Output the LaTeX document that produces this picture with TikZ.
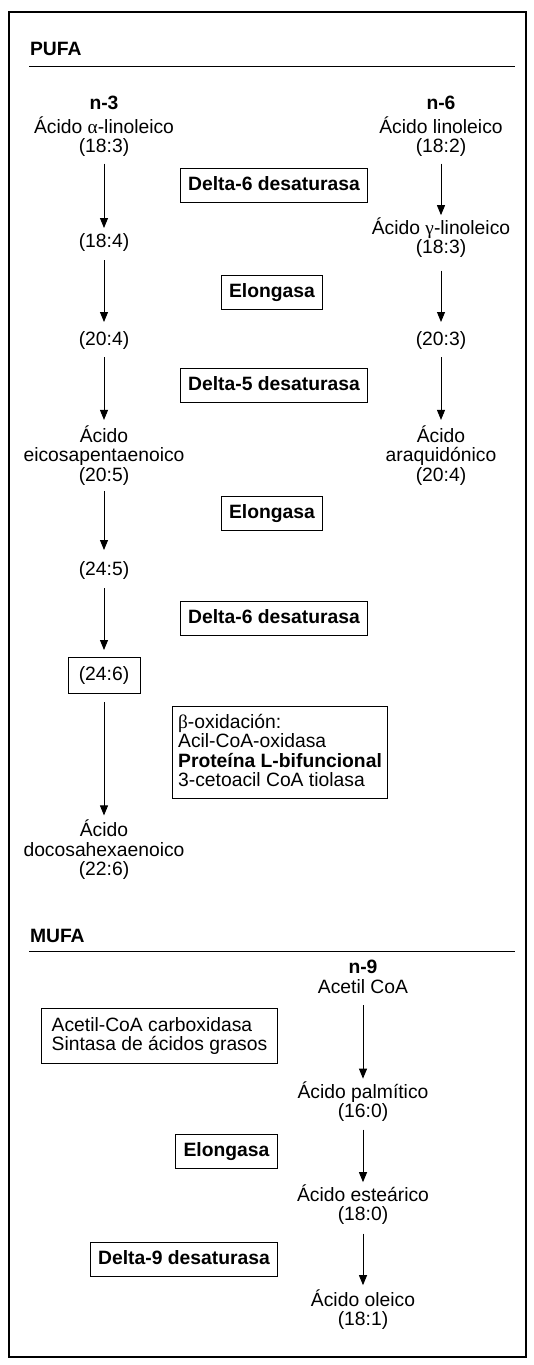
\documentclass[tikz,border=0pt]{standalone}
\usepackage{fontspec}
\setmainfont{Liberation Sans}
\newfontfamily\grk{Liberation Serif}
\usetikzlibrary{arrows.meta}
\newcommand\ms{\rule[-4.5pt]{0pt}{19.5pt}}
\newcommand\fs{\fontsize{19.3pt}{19.5pt}\selectfont\lineskiplimit=-100pt\relax}
\begin{document}
\begin{tikzpicture}[x=1pt,y=-1pt,
  txt/.style={font=\fs, align=center, inner sep=0pt, outer sep=0pt},
  hdr/.style={txt, font=\fs\bfseries},
  enz/.style={draw, line width=1pt, font=\fs\bfseries, inner xsep=8pt, inner ysep=7.25pt, outer sep=0pt},
  lbox/.style={draw, line width=1pt, font=\fs, align=left, outer sep=0pt},
  arr/.style={-{Triangle[width=8pt,length=10pt]}, line width=0.9pt}]
\useasboundingbox (0,0) rectangle (534,1365);
\draw[line width=1.3pt] (9,12) rectangle (526,1357);
% ---------- PUFA ----------
\node[hdr, anchor=west] (pufa) at (30,50.5) {\ms PUFA};
\draw[line width=0.9pt] (29,66) -- (515,66);
\node[hdr] (n3) at (104,104.5) {\ms n-3};
\node[hdr] (n6) at (441,104.5) {\ms n-6};
\node[txt] (a1) at (104,137) {\ms Ácido {\grk α}-linoleico\\\ms (18:3)};
\node[txt] (b1) at (441,137) {\ms Ácido linoleico\\\ms (18:2)};
\node[txt] (a2) at (104,242) {\ms (18:4)};
\node[txt] (b2) at (441,238) {\ms Ácido {\grk γ}-linoleico\\\ms (18:3)};
\node[txt] (a3) at (104,340) {\ms (20:4)};
\node[txt] (b3) at (441,340) {\ms (20:3)};
\node[txt] (a4) at (104,455.5) {\ms Ácido\\\ms eicosapentaenoico\\\ms (20:5)};
\node[txt] (b4) at (441,455.5) {\ms Ácido\\\ms araquidónico\\\ms (20:4)};
\node[txt] (a5) at (104,570) {\ms (24:5)};
\node[draw, line width=1pt, font=\fs, inner sep=0pt, outer sep=0pt, minimum width=72pt, minimum height=36pt] (a6) at (104,675) {\ms (24:6)};
\node[txt] (a7) at (104,850) {\ms Ácido\\\ms docosahexaenoico\\\ms (22:6)};
\node[enz] (e1) at (274,185) {\ms Delta-6 desaturasa};
\node[enz] (e2) at (272,292.5) {\ms Elongasa};
\node[enz] (e3) at (274,385.5) {\ms Delta-5 desaturasa};
\node[enz] (e4) at (272,513.5) {\ms Elongasa};
\node[enz] (e5) at (274,618) {\ms Delta-6 desaturasa};
\node[lbox, inner xsep=6pt, inner ysep=7pt] (e6) at (280,752)
  {\ms{\grk β}-oxidación:\\\ms Acil-CoA-oxidasa\\\ms\textbf{Proteína L-bifuncional}\\\ms 3-cetoacil CoA tiolasa};
\draw[arr, shorten <=6.25pt, shorten >=4.25pt] (a1.south) -- (a2.north);
\draw[arr, shorten <=8.25pt, shorten >=8.25pt] (a2.south) -- (a3.north);
\draw[arr, shorten <=7.25pt, shorten >=5.45pt] (a3.south) -- (a4.north);
\draw[arr, shorten <=5.25pt, shorten >=10.25pt] (a4.south) -- (a5.north);
\draw[arr, shorten <=8.25pt, shorten >=7pt] (a5.south) -- (a6.north);
\draw[arr, shorten <=9pt, shorten >=4.45pt] (a6.south) -- (a7.north);
\draw[arr, shorten <=6.25pt, shorten >=2.45pt] (b1.south) -- (b2.north);
\draw[arr, shorten <=12.25pt, shorten >=8.25pt] (b2.south) -- (b3.north);
\draw[arr, shorten <=7.25pt, shorten >=5.45pt] (b3.south) -- (b4.north);
% ---------- MUFA ----------
\node[hdr, anchor=west] (mufa) at (30,936.75) {\ms MUFA};
\draw[line width=0.9pt] (29,951) -- (515,951);
\node[hdr] (n9) at (363,967.75) {\ms n-9};
\node[txt] (m0) at (363,988) {\ms Acetil CoA};
\node[txt] (m1) at (363,1102) {\ms Ácido palmítico\\\ms (16:0)};
\node[txt] (m2) at (363,1205) {\ms Ácido esteárico\\\ms (18:0)};
\node[txt] (m3) at (363,1310) {\ms Ácido oleico\\\ms (18:1)};
\node[lbox, inner xsep=10pt, inner ysep=8pt] (f1) at (159.5,1035.5)
  {\ms Acetil-CoA carboxidasa\\\ms Sintasa de ácidos grasos};
\node[enz] (f2) at (226.5,1151) {\ms Elongasa};
\node[enz] (f3) at (184,1259.5) {\ms Delta-9 desaturasa};
\draw[arr, shorten <=7.25pt, shorten >=3pt] (m0.south) -- (m1.north);
\draw[arr, shorten <=7.25pt, shorten >=2.45pt] (m1.south) -- (m2.north);
\draw[arr, shorten <=8.25pt, shorten >=4.45pt] (m2.south) -- (m3.north);
\end{tikzpicture}
\end{document}
